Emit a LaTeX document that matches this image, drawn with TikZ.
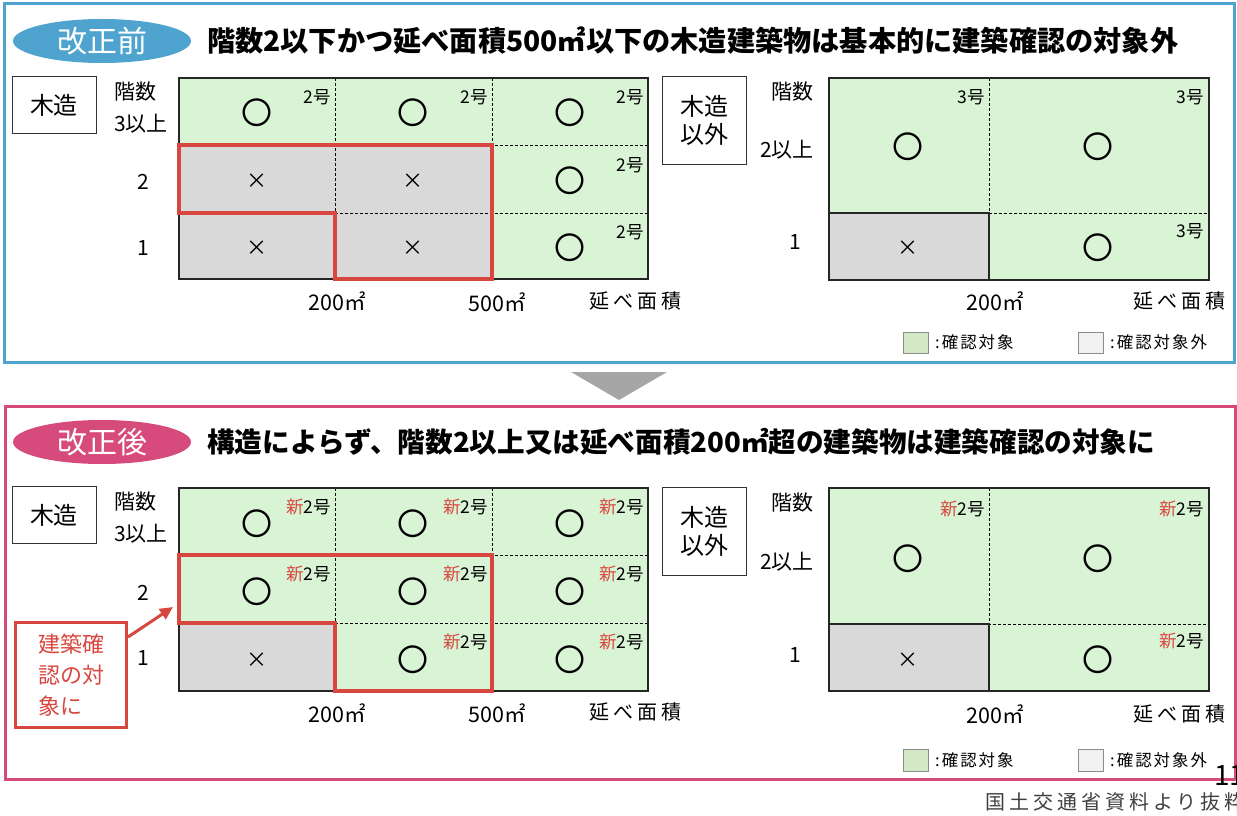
\documentclass[tikz,border=0pt]{standalone}
\usepackage{fontspec}
\setmainfont{Noto Sans CJK JP}
\newfontfamily\jpls{Noto Sans CJK JP}[LetterSpace=20]
\newfontfamily\jplg{Noto Sans CJK JP}[LetterSpace=12]
\usetikzlibrary{shapes.geometric,arrows.meta,calc}
\definecolor{cgreen}{HTML}{D9F3D5}
\definecolor{cgrey}{HTML}{D9D9D9}
\definecolor{lgreen}{HTML}{D5E8C6}
\definecolor{lgrey}{HTML}{F1F1F1}
\definecolor{cred}{HTML}{D8473F}
\definecolor{cblue}{HTML}{4EA4CE}
\definecolor{cpink}{HTML}{D64B7B}
\definecolor{carrow}{HTML}{A6A6A6}
\definecolor{cfoot}{HTML}{404040}
\tikzset{
  okm/.style={inner sep=0pt,font=\fontsize{31}{31}\selectfont},
  ngm/.style={inner sep=0pt,font=\fontsize{21}{21}\selectfont},
  gou/.style={inner sep=0pt,anchor=east,font=\fontsize{17.5}{17.5}\selectfont},
  lab/.style={inner sep=0pt,font=\fontsize{21}{21}\selectfont},
  axn/.style={inner sep=0pt,font=\fontsize{21.5}{21.5}\selectfont},
  axl/.style={inner sep=0pt,font=\jpls\fontsize{20}{20}\selectfont},
  kbox/.style={draw=black!80,line width=0.8pt,fill=white,inner sep=0pt,font=\fontsize{24}{28}\selectfont,align=center},
  leg/.style={inner sep=0pt,anchor=west,font=\jplg\fontsize{16.5}{16.5}\selectfont},
  legbox/.style={draw=black!45,line width=0.8pt},
  dsh/.style={dash pattern=on 3pt off 2pt,line width=0.8pt},
  gridb/.style={line width=1.2pt,draw=black!85},
  redline/.style={draw=cred,line width=4pt,line join=miter},
  oval/.style={ellipse,minimum width=178pt,minimum height=44pt,inner sep=0pt,text=white,font=\fontsize{30}{30}\selectfont},
  ttl/.style={anchor=west,inner sep=0pt,font=\bfseries\fontsize{28.2}{28.2}\selectfont},
}
\newcommand{\nw}{\textcolor{cred}{新}}
\begin{document}
\begin{tikzpicture}[x=1pt,y=-1pt]
\useasboundingbox (0,0) rectangle (1237,816);
\clip (0,0) rectangle (1237,816);
\fill[white] (0,0) rectangle (1237,816);
% frames
\draw[cblue,line width=3pt] (4,4) rectangle (1234,362);
\draw[cpink,line width=3pt] (5,406) rectangle (1235,779);
\fill[carrow] (571,372) -- (667,372) -- (619,400) -- cycle;
% ===== TOP =====
\node[oval,fill=cblue] (ov1) at (102,41) {改正前};
\node[ttl] (t1) at (207,41) {階数2以下かつ延べ面積500㎡以下の木造建築物は基本的に建築確認の対象外};
% top-left grid
\fill[cgreen] (179,78) rectangle (648,279);
\fill[cgrey] (179,145) rectangle (492,279);
\draw[dsh] (335,78) -- (335,213);
\draw[dsh] (492,78) -- (492,145) -- (648,145);
\draw[dsh] (335,213) -- (648,213);
\draw[gridb] (179,78) rectangle (648,279);
\draw[redline] (179,145) -- (492,145) -- (492,279) -- (335,279) -- (335,213) -- (179,213) -- cycle;
\foreach \x/\y [count=\i] in {257/113,413/113,570/113,570/181,570/248}
  \node[okm] (tlo\i) at (\x,\y) {〇};
\foreach \x/\y [count=\i] in {257/181,413/181,257/248,413/248}
  \node[ngm] (tlx\i) at (\x,\y) {×};
\foreach \x/\y [count=\i] in {331/97,488/97,644/97,644/165,644/232}
  \node[gou] (tlg\i) at (\x,\y) {2号};
\node[kbox,minimum width=84pt,minimum height=57pt] (tk1) at (54,105) {木造};
\node[lab] (tlk1) at (135,92) {階数};
\node[lab] (tlk2) at (141,124) {3以上};
\node[lab] (tlr2) at (143,182) {2};
\node[lab] (tlr1) at (143,248) {1};
\node[axn] (tla1) at (337,301) {200㎡};
\node[axn] (tla2) at (497,302) {500㎡};
\node[axl] (tla3) at (635,301) {延べ面積};
% top-right grid
\fill[cgreen] (829,78) rectangle (1209,280);
\fill[cgrey] (829,213) rectangle (989,280);
\draw[dsh] (989,78) -- (989,213) -- (1209,213);
\draw[gridb] (829,213) -- (989,213) -- (989,280);
\draw[gridb] (829,78) rectangle (1209,280);
\foreach \x/\y [count=\i] in {908/147,1098/147,1098/248}
  \node[okm] (tro\i) at (\x,\y) {〇};
\node[ngm] (trx1) at (908,248) {×};
\foreach \x/\y [count=\i] in {985/97,1204/97,1204/231}
  \node[gou] (trg\i) at (\x,\y) {3号};
\node[kbox,minimum width=84pt,minimum height=88pt] (tk2) at (704,120) {木造\\以外};
\node[lab] (trk1) at (792,92) {階数};
\node[lab] (trk2) at (787,150) {2以上};
\node[lab] (trr1) at (795,242) {1};
\node[axn] (tra1) at (995,301) {200㎡};
\node[axl] (tra2) at (1179,301) {延べ面積};
\draw[legbox,fill=lgreen] (903,332) rectangle (928,353);
\node[leg] (tl1) at (935,342) {:確認対象};
\draw[legbox,fill=lgrey] (1078,332) rectangle (1103,353);
\node[leg] (tl2) at (1110,342) {:確認対象外};
% ===== BOTTOM =====
\node[oval,fill=cpink] (ov2) at (102,442) {改正後};
\node[ttl,font=\bfseries\fontsize{27.6}{27.6}\selectfont] (t2) at (207,442) {構造によらず、階数2以上又は延べ面積200㎡超の建築物は建築確認の対象に};
% bottom-left grid
\fill[cgreen] (179,488) rectangle (648,691);
\fill[cgrey] (179,623) rectangle (335,691);
\draw[dsh] (335,488) -- (335,623);
\draw[dsh] (492,488) -- (492,555) -- (648,555);
\draw[dsh] (335,623) -- (648,623);
\draw[gridb] (179,488) rectangle (648,691);
\draw[redline] (179,555) -- (492,555) -- (492,691) -- (335,691) -- (335,623) -- (179,623) -- cycle;
\foreach \x/\y [count=\i] in {257/524,413/524,570/524,257/592,413/592,570/592,413/660,570/660}
  \node[okm] (blo\i) at (\x,\y) {〇};
\node[ngm] (blx1) at (257,660) {×};
\foreach \x/\y [count=\i] in {331/507,488/507,644/507,331/574,488/574,644/574,488/642,644/642}
  \node[gou] (blg\i) at (\x,\y) {\nw 2号};
\node[kbox,minimum width=84pt,minimum height=57pt] (bk1) at (54,515) {木造};
\node[lab] (blk1) at (135,502) {階数};
\node[lab] (blk2) at (141,534) {3以上};
\node[lab] (blr2) at (143,593) {2};
\node[lab] (blr1) at (143,658) {1};
\node[axn] (bla1) at (337,713) {200㎡};
\node[axn] (bla2) at (497,713) {500㎡};
\node[axl] (bla3) at (635,712) {延べ面積};
% callout
\node[draw=cred,line width=3pt,fill=white,text=cred,align=left,inner sep=0pt,
      minimum width=111pt,minimum height=105pt,font=\fontsize{22}{31}\selectfont] (co) at (71,675) {建築確\\認の対\\象に};
\coordinate (ctip) at (173,607);
\draw[cred,line width=3pt,-{Triangle[length=13pt,width=12pt]}] ($(co.north east)+(0,16)$) -- (ctip);
% bottom-right grid
\fill[cgreen] (829,488) rectangle (1209,691);
\fill[cgrey] (829,624) rectangle (989,691);
\draw[dsh] (989,488) -- (989,624) -- (1209,624);
\draw[gridb] (829,624) -- (989,624) -- (989,691);
\draw[gridb] (829,488) rectangle (1209,691);
\foreach \x/\y [count=\i] in {908/559,1098/559,1098/660}
  \node[okm] (bro\i) at (\x,\y) {〇};
\node[ngm] (brx1) at (908,660) {×};
\foreach \x/\y [count=\i] in {985/509,1204/509,1204/641}
  \node[gou] (brg\i) at (\x,\y) {\nw 2号};
\node[kbox,minimum width=84pt,minimum height=88pt] (bk2) at (704,531) {木造\\以外};
\node[lab] (brk1) at (792,503) {階数};
\node[lab] (brk2) at (787,562) {2以上};
\node[lab] (brr1) at (795,655) {1};
\node[axn] (bra1) at (995,714) {200㎡};
\node[axl] (bra2) at (1179,714) {延べ面積};
\draw[legbox,fill=lgreen] (903,749) rectangle (928,771);
\node[leg] (bl1) at (935,760) {:確認対象};
\draw[legbox,fill=lgrey] (1078,749) rectangle (1103,771);
\node[leg] (bl2) at (1110,760) {:確認対象外};
% footer
\node[anchor=west,inner sep=0pt,font=\fontsize{28}{28}\selectfont] (pg) at (1214,776) {11};
\node[anchor=west,inner sep=0pt,text=cfoot,font=\jpls\fontsize{20}{20}\selectfont] (src) at (985,802) {国土交通省資料より抜粋};
\end{tikzpicture}
\end{document}
